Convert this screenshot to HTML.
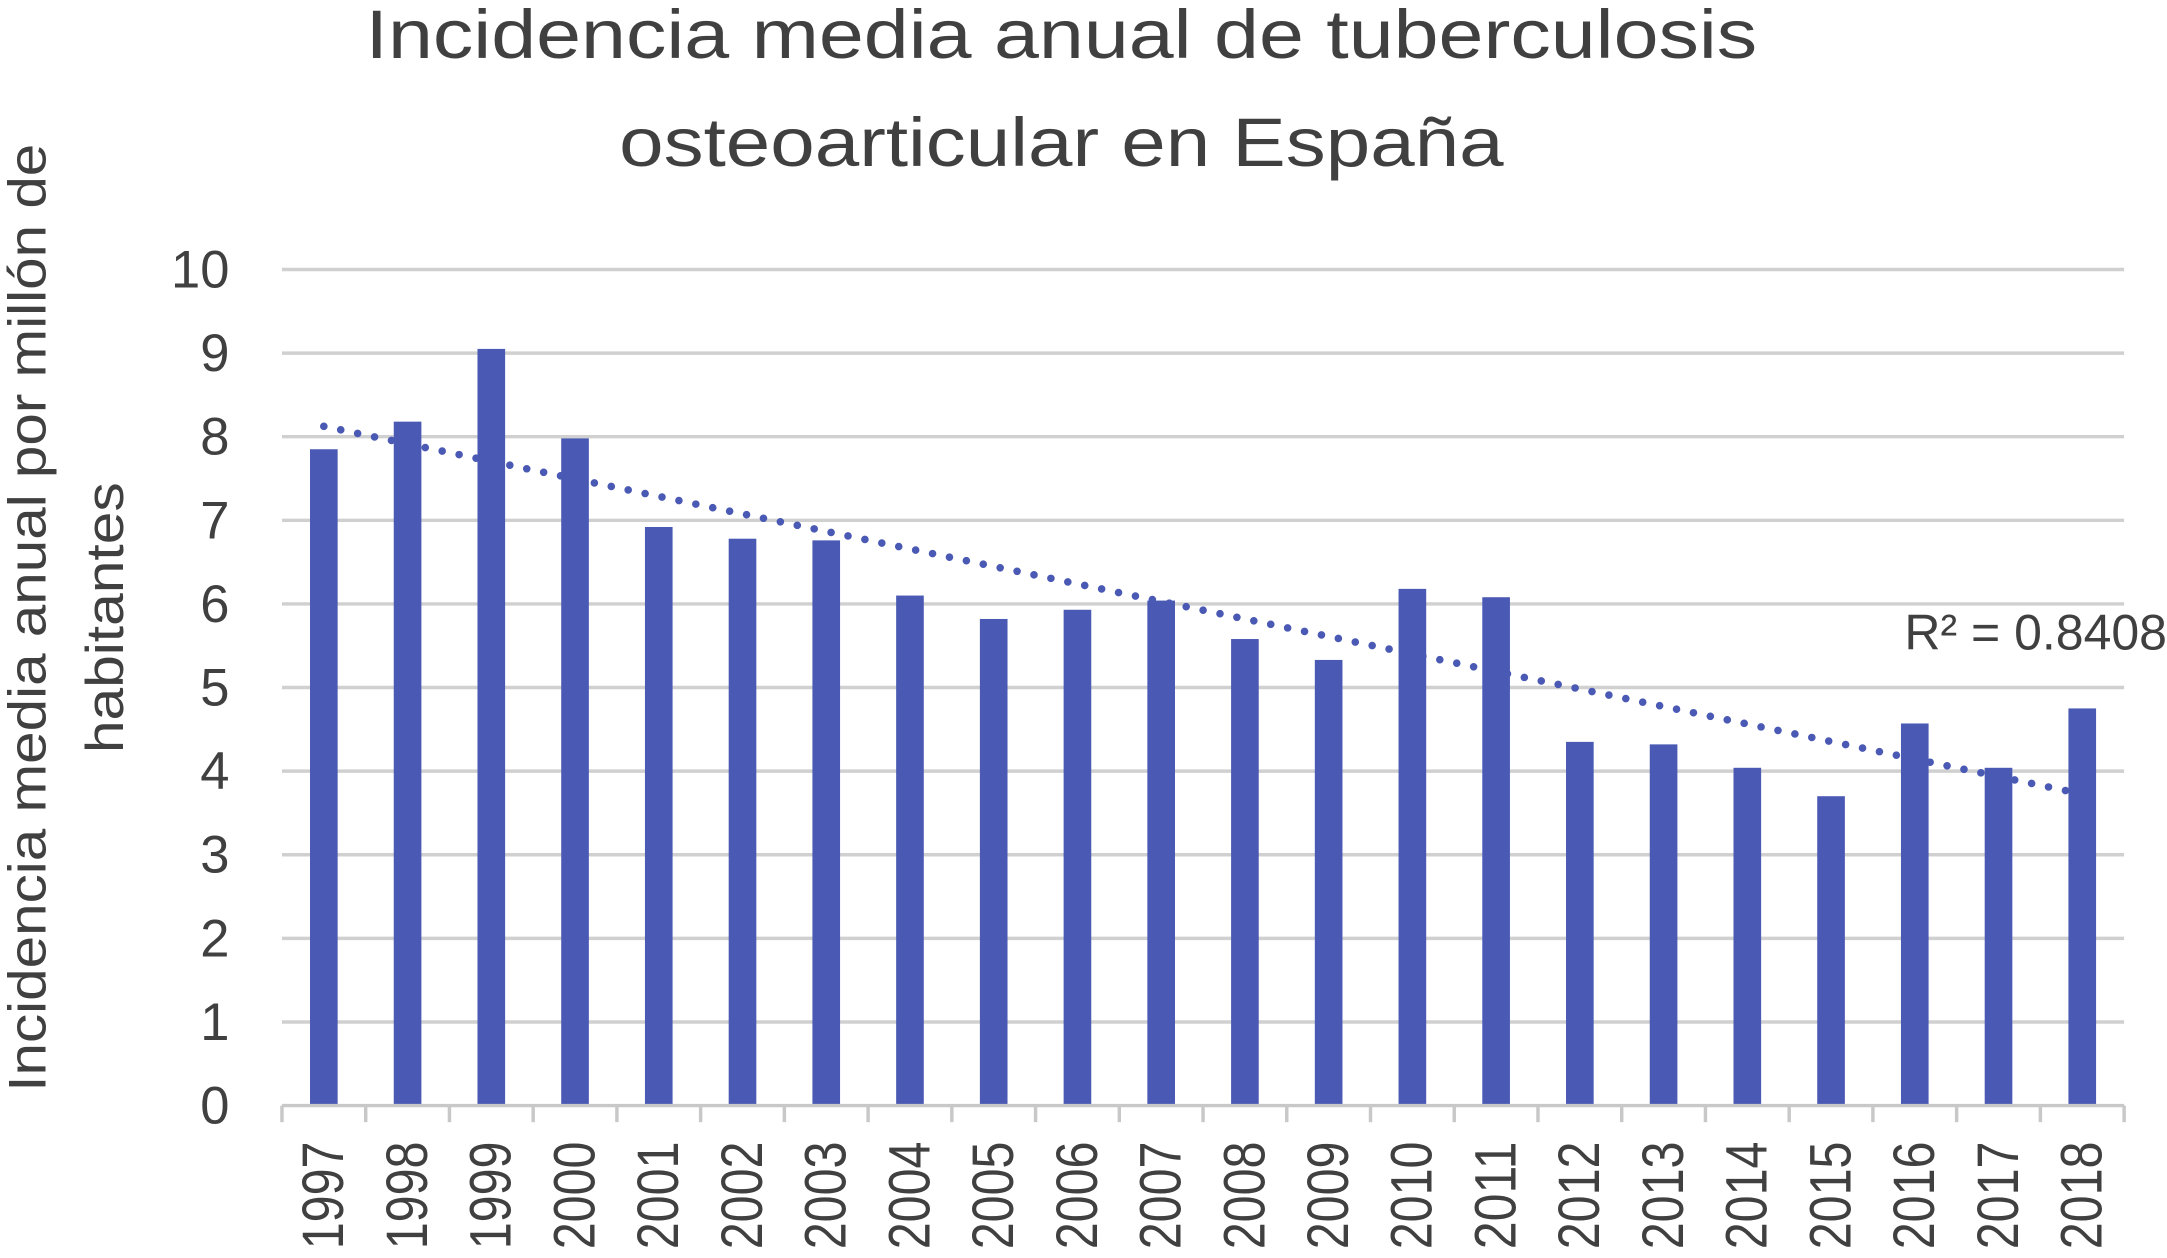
<!DOCTYPE html>
<html><head><meta charset="utf-8"><style>html,body{margin:0;padding:0;background:#fff}svg{display:block}</style></head>
<body>
<svg id="chart" width="2167" height="1258" viewBox="0 0 1568 910.3" xmlns="http://www.w3.org/2000/svg" font-family="'Liberation Sans', sans-serif" fill="#404040">
<text x="768" y="42" font-size="50" text-anchor="middle" textLength="1007" lengthAdjust="spacingAndGlyphs">Incidencia media anual de tuberculosis</text>
<text x="768" y="120" font-size="50" text-anchor="middle" textLength="640" lengthAdjust="spacingAndGlyphs">osteoarticular en España</text>
<g font-size="38">
<text transform="translate(33,447) rotate(-90)" text-anchor="middle" textLength="686" lengthAdjust="spacingAndGlyphs">Incidencia media anual por millón de</text>
<text transform="translate(89,447) rotate(-90)" text-anchor="middle" textLength="196" lengthAdjust="spacingAndGlyphs">habitantes</text>
</g>
<g id="grid"></g><g id="bars"></g><g id="axis"></g><g id="trend"></g>
<text x="1378" y="470" font-size="36" textLength="190" lengthAdjust="spacingAndGlyphs">R² = 0.8408</text>
</svg>
<script>
const categories=["1997","1998","1999","2000","2001","2002","2003","2004","2005","2006","2007","2008","2009","2010","2011","2012","2013","2014","2015","2016","2017","2018"];
const values=[7.85,8.18,9.05,7.98,6.92,6.78,6.76,6.1,5.82,5.93,6.04,5.58,5.33,6.18,6.08,4.35,4.32,4.04,3.7,4.57,4.04,4.75];
const yTicks=[0,1,2,3,4,5,6,7,8,9,10];
const NS="http://www.w3.org/2000/svg";
const L=204,R=1537,T=195,B=800,yMax=10;
const bw=(R-L)/categories.length;
const y=v=>B-(v/yMax)*(B-T);
const xc=i=>L+bw*(i+0.5);
function mk(tag,attrs,parent){const e=document.createElementNS(NS,tag);for(const k in attrs)e.setAttribute(k,attrs[k]);parent.appendChild(e);return e;}
const grid=document.getElementById('grid'),bars=document.getElementById('bars'),axis=document.getElementById('axis'),trend=document.getElementById('trend');
yTicks.forEach(t=>{
 if(t>0){const g=mk('line',{x1:L,x2:R,y1:y(t),y2:y(t),stroke:'#d0d0d0','stroke-width':2.5},grid);
 
 }
 const tx=mk('text',{x:166,y:y(t)+13,'font-size':38,'text-anchor':'end'},grid);tx.textContent=t;
 
 
});
values.forEach((v,i)=>{
 const b=mk('rect',{x:xc(i)-10,y:y(v),width:20,height:B-y(v),fill:'#4a59b3'},bars);
 
 
 const t=mk('text',{transform:`translate(${xc(i)+14},826) rotate(-90)`,'font-size':42,'text-anchor':'end',textLength:78,lengthAdjust:'spacingAndGlyphs'},axis);t.textContent=categories[i];
 
 
});
const ax=mk('line',{x1:L,x2:R,y1:B,y2:B,stroke:'#c8c8c8','stroke-width':2.5},axis);


for(let i=0;i<=categories.length;i++){const tk=mk('line',{x1:L+bw*i,x2:L+bw*i,y1:B,y2:B+12,stroke:'#c8c8c8','stroke-width':2.5},axis);
 
 }
const n=values.length;let sx=0,sy=0,sxy=0,sxx=0;
values.forEach((v,i)=>{sx+=i;sy+=v;sxy+=i*v;sxx+=i*i;});
const m=(n*sxy-sx*sy)/(n*sxx-sx*sx),c=(sy-m*sx)/n;
const tl=mk('line',{x1:xc(0),y1:y(c),x2:xc(n-1),y2:y(c+m*(n-1)),stroke:'#4a59b3','stroke-width':5.5,'stroke-linecap':'round','stroke-dasharray':'0 12.5'},trend);


</script>
</body></html>
